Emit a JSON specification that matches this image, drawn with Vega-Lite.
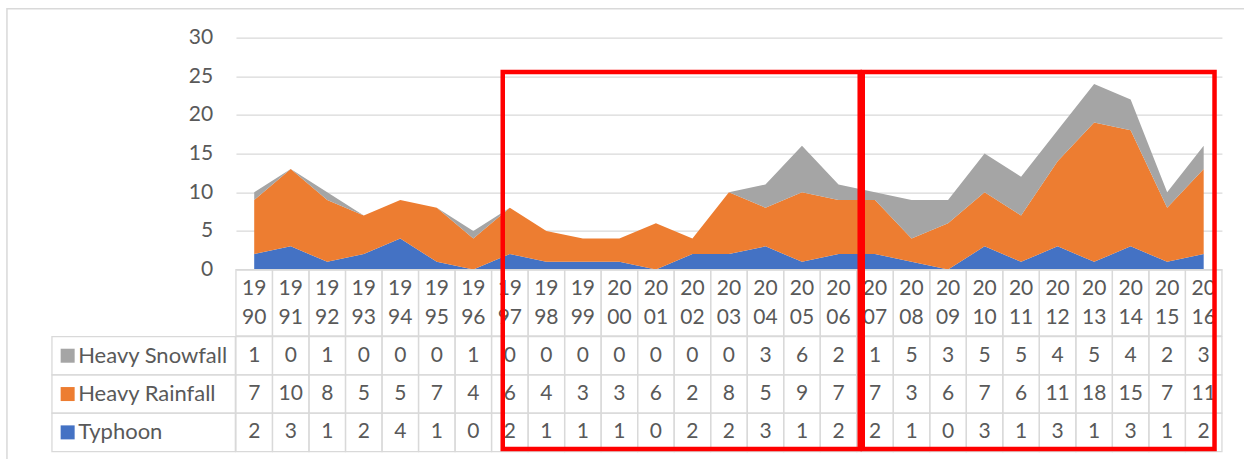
{
  "$schema": "https://vega.github.io/schema/vega-lite/v6.json",
  "autosize": {"type": "pad"},
  "padding": {"left": 5.95, "top": 7.55, "right": 0, "bottom": 0},
  "background": "white",
  "config": {"view": {"stroke": null}, "font": "Lato"},
  "datasets": {
    "events": [
      {"year": 1990, "label": "19\n90", "Typhoon": 2, "Heavy Rainfall": 7, "Heavy Snowfall": 1},
      {"year": 1991, "label": "19\n91", "Typhoon": 3, "Heavy Rainfall": 10, "Heavy Snowfall": 0},
      {"year": 1992, "label": "19\n92", "Typhoon": 1, "Heavy Rainfall": 8, "Heavy Snowfall": 1},
      {"year": 1993, "label": "19\n93", "Typhoon": 2, "Heavy Rainfall": 5, "Heavy Snowfall": 0},
      {"year": 1994, "label": "19\n94", "Typhoon": 4, "Heavy Rainfall": 5, "Heavy Snowfall": 0},
      {"year": 1995, "label": "19\n95", "Typhoon": 1, "Heavy Rainfall": 7, "Heavy Snowfall": 0},
      {"year": 1996, "label": "19\n96", "Typhoon": 0, "Heavy Rainfall": 4, "Heavy Snowfall": 1},
      {"year": 1997, "label": "19\n97", "Typhoon": 2, "Heavy Rainfall": 6, "Heavy Snowfall": 0},
      {"year": 1998, "label": "19\n98", "Typhoon": 1, "Heavy Rainfall": 4, "Heavy Snowfall": 0},
      {"year": 1999, "label": "19\n99", "Typhoon": 1, "Heavy Rainfall": 3, "Heavy Snowfall": 0},
      {"year": 2000, "label": "20\n00", "Typhoon": 1, "Heavy Rainfall": 3, "Heavy Snowfall": 0},
      {"year": 2001, "label": "20\n01", "Typhoon": 0, "Heavy Rainfall": 6, "Heavy Snowfall": 0},
      {"year": 2002, "label": "20\n02", "Typhoon": 2, "Heavy Rainfall": 2, "Heavy Snowfall": 0},
      {"year": 2003, "label": "20\n03", "Typhoon": 2, "Heavy Rainfall": 8, "Heavy Snowfall": 0},
      {"year": 2004, "label": "20\n04", "Typhoon": 3, "Heavy Rainfall": 5, "Heavy Snowfall": 3},
      {"year": 2005, "label": "20\n05", "Typhoon": 1, "Heavy Rainfall": 9, "Heavy Snowfall": 6},
      {"year": 2006, "label": "20\n06", "Typhoon": 2, "Heavy Rainfall": 7, "Heavy Snowfall": 2},
      {"year": 2007, "label": "20\n07", "Typhoon": 2, "Heavy Rainfall": 7, "Heavy Snowfall": 1},
      {"year": 2008, "label": "20\n08", "Typhoon": 1, "Heavy Rainfall": 3, "Heavy Snowfall": 5},
      {"year": 2009, "label": "20\n09", "Typhoon": 0, "Heavy Rainfall": 6, "Heavy Snowfall": 3},
      {"year": 2010, "label": "20\n10", "Typhoon": 3, "Heavy Rainfall": 7, "Heavy Snowfall": 5},
      {"year": 2011, "label": "20\n11", "Typhoon": 1, "Heavy Rainfall": 6, "Heavy Snowfall": 5},
      {"year": 2012, "label": "20\n12", "Typhoon": 3, "Heavy Rainfall": 11, "Heavy Snowfall": 4},
      {"year": 2013, "label": "20\n13", "Typhoon": 1, "Heavy Rainfall": 18, "Heavy Snowfall": 5},
      {"year": 2014, "label": "20\n14", "Typhoon": 3, "Heavy Rainfall": 15, "Heavy Snowfall": 4},
      {"year": 2015, "label": "20\n15", "Typhoon": 1, "Heavy Rainfall": 7, "Heavy Snowfall": 2},
      {"year": 2016, "label": "20\n16", "Typhoon": 2, "Heavy Rainfall": 11, "Heavy Snowfall": 3}
    ],
    "seriesList": [
      {"series": "Heavy Snowfall"},
      {"series": "Heavy Rainfall"},
      {"series": "Typhoon"}
    ]
  },
  "columns": 2,
  "spacing": 0,
  "bounds": "flush",
  "concat": [
    {
      "width": 183.4, "height": 232,
      "data": {"values": []},
      "mark": "rect",
      "encoding": {}
    },
    {
      "width": 986, "height": 232,
      "data": {"name": "events"},
      "transform": [
        {"fold": ["Typhoon", "Heavy Rainfall", "Heavy Snowfall"], "as": ["series", "count"]},
        {"stack": "count", "groupby": ["year"], "as": ["y0", "y1"]}
      ],
      "mark": {"type": "area", "opacity": 1},
      "encoding": {
        "x": {"field": "year", "type": "quantitative", "scale": {"domain": [1989.5, 2016.5], "nice": false, "zero": false}, "axis": null},
        "y": {"field": "y1", "type": "quantitative", "scale": {"domain": [0, 30], "nice": false},
              "axis": {"values": [0, 5, 10, 15, 20, 25, 30], "grid": true, "gridColor": "#d9d9d9", "gridWidth": 1.3, "domain": false, "ticks": false, "tickSize": 0, "labelPadding": 23.4, "labelFont": "Lato", "labelFontSize": 21, "labelColor": "#595959", "title": null}},
        "y2": {"field": "y0"},
        "color": {"field": "series", "type": "nominal", "scale": {"domain": ["Typhoon", "Heavy Rainfall", "Heavy Snowfall"], "range": ["#4472C4", "#ED7D31", "#A5A5A5"]}, "legend": null}
      }
    },
    {
      "width": 183.4, "height": 66.3,
      "data": {"values": []},
      "mark": "rect",
      "encoding": {}
    },
    {
      "width": 986, "height": 66.3,
      "data": {"name": "events"},
      "encoding": {
        "x": {"field": "year", "type": "ordinal", "scale": {"paddingInner": 0, "paddingOuter": 0}, "axis": null}
      },
      "layer": [
        {"mark": {"type": "rect", "fill": "transparent", "stroke": "#d9d9d9", "strokeWidth": 1.3}},
        {"mark": {"type": "text", "lineBreak": "\n", "lineHeight": 28.5, "font": "Lato", "fontSize": 21, "color": "#595959", "baseline": "middle", "align": "center", "dy": -13.5},
         "encoding": {"text": {"field": "label", "type": "nominal"}}}
      ]
    },
    {
      "width": 183.4, "height": 115,
      "data": {"name": "seriesList"},
      "encoding": {
        "y": {"field": "series", "type": "nominal", "scale": {"domain": ["Heavy Snowfall", "Heavy Rainfall", "Typhoon"], "paddingInner": 0, "paddingOuter": 0}, "axis": null}
      },
      "layer": [
        {"mark": {"type": "rect", "fill": "transparent", "stroke": "#d9d9d9", "strokeWidth": 1.3}},
        {"mark": {"type": "point", "shape": "square", "filled": true, "size": 196, "opacity": 1},
         "encoding": {
           "x": {"datum": 0.0856, "type": "quantitative", "scale": {"domain": [0, 1], "nice": false, "zero": false}, "axis": null},
           "color": {"field": "series", "type": "nominal", "scale": {"domain": ["Typhoon", "Heavy Rainfall", "Heavy Snowfall"], "range": ["#4472C4", "#ED7D31", "#A5A5A5"]}, "legend": null}
         }},
        {"mark": {"type": "text", "align": "left", "baseline": "middle", "font": "Lato", "fontSize": 22, "color": "#595959"},
         "encoding": {
           "x": {"datum": 0.143, "type": "quantitative"},
           "text": {"field": "series", "type": "nominal"}
         }}
      ]
    },
    {
      "width": 986, "height": 115,
      "layer": [
        {"data": {"name": "events"},
         "transform": [{"fold": ["Heavy Snowfall", "Heavy Rainfall", "Typhoon"], "as": ["series", "count"]}],
         "mark": {"type": "rect", "fill": "transparent", "stroke": "#d9d9d9", "strokeWidth": 1.3},
         "encoding": {
           "x": {"field": "year", "type": "ordinal", "scale": {"paddingInner": 0, "paddingOuter": 0}, "axis": null},
           "y": {"field": "series", "type": "nominal", "scale": {"domain": ["Heavy Snowfall", "Heavy Rainfall", "Typhoon"], "paddingInner": 0, "paddingOuter": 0}, "axis": null}
         }},
        {"data": {"name": "events"},
         "transform": [{"fold": ["Heavy Snowfall", "Heavy Rainfall", "Typhoon"], "as": ["series", "count"]}],
         "mark": {"type": "text", "font": "Lato", "fontSize": 21, "color": "#595959", "baseline": "middle", "align": "center"},
         "encoding": {
           "x": {"field": "year", "type": "ordinal", "scale": {"paddingInner": 0, "paddingOuter": 0}, "axis": null},
           "y": {"field": "series", "type": "nominal", "scale": {"domain": ["Heavy Snowfall", "Heavy Rainfall", "Typhoon"], "paddingInner": 0, "paddingOuter": 0}, "axis": null},
           "text": {"field": "count", "type": "quantitative"}
         }},
        {"data": {"values": [{}]},
         "mark": {"type": "rect", "fill": "transparent", "stroke": "#d9d9d9", "strokeWidth": 1.5},
         "encoding": {
           "x": {"datum": 1983.229, "type": "quantitative", "scale": {"domain": [1989.5, 2016.5], "nice": false, "zero": false}, "axis": null},
           "x2": {"datum": 2025},
           "y": {"datum": 33.8, "type": "quantitative", "scale": {"domain": [-23.445, -8.574], "nice": false, "zero": false}, "axis": null},
           "y2": {"datum": -30}
         }},
        {"data": {"values": [{}]},
         "mark": {"type": "rect", "fill": "transparent", "stroke": "#FF0000", "strokeWidth": 4.5},
         "encoding": {
           "x": {"datum": 1996.806, "type": "quantitative", "scale": {"domain": [1989.5, 2016.5], "nice": false, "zero": false}, "axis": null},
           "x2": {"datum": 2006.581},
           "y": {"datum": 25.63, "type": "quantitative", "scale": {"domain": [-23.445, -8.574], "nice": false, "zero": false}, "axis": null},
           "y2": {"datum": -23.12}
         }},
        {"data": {"values": [{}]},
         "mark": {"type": "rect", "fill": "transparent", "stroke": "#FF0000", "strokeWidth": 4.5},
         "encoding": {
           "x": {"datum": 2006.664, "type": "quantitative", "scale": {"domain": [1989.5, 2016.5], "nice": false, "zero": false}, "axis": null},
           "x2": {"datum": 2016.297},
           "y": {"datum": 25.63, "type": "quantitative", "scale": {"domain": [-23.445, -8.574], "nice": false, "zero": false}, "axis": null},
           "y2": {"datum": -23.12}
         }}
      ],
      "resolve": {"scale": {"x": "independent", "y": "independent"}}
    }
  ]
}
